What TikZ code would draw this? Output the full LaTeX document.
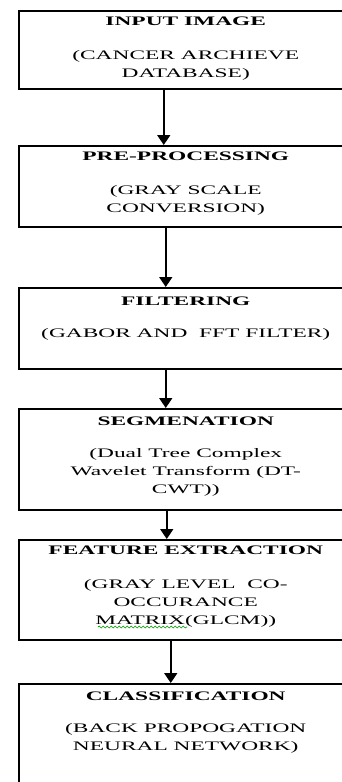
\documentclass[tikz,border=0pt]{standalone}
\usepackage{fontspec}
\setmainfont{Liberation Serif}[FakeStretch=1.8]
\usetikzlibrary{positioning,arrows.meta,calc,decorations.pathmorphing}

\tikzset{
  stage/.style={draw,line width=1.5pt,minimum width=334pt,inner sep=0pt,anchor=north west},
  stagetext/.style={font=\fontsize{13}{18}\selectfont,align=center,inner sep=0pt},
  flow/.style={draw,line width=1.5pt,-{Triangle[width=13pt,length=10pt]}},
  spellmark/.style={draw=green!60!black,line width=0.6pt,decorate,
    decoration={snake,segment length=4pt,amplitude=1pt}}
}

\begin{document}
\begin{tikzpicture}[x=1pt,y=-1pt]

  \useasboundingbox (0,0) rectangle (342,782);
  \clip (0,0) rectangle (342,782);

  % boxes
  \begin{scope}[every node/.style={stage}]
    \node[minimum height=78pt]  (1) at (18,10)  {};
    \node[minimum height=81pt]  (2) at (18,145) {};
    \node[minimum height=81pt]  (3) at (18,287) {};
    \node[minimum height=101pt] (4) at (18,408) {};
    \node[minimum height=100pt] (5) at (18,539) {};
    \node[minimum height=130pt] (6) at (18,683) {};
  \end{scope}

  % texts
  \begin{scope}[every node/.style={stagetext}]
    \node[below=7pt of 1.north] (t1) {\textbf{INPUT IMAGE}\\[16pt]
      (CANCER ARCHIEVE\\DATABASE)};
    \node[below=7pt of 2.north] (t2) {\textbf{PRE-PROCESSING}\\[16pt]
      (GRAY SCALE\\CONVERSION)};
    \node[below=10pt of 3.north] (t3) {\textbf{FILTERING}\\[14pt]
      (GABOR AND~ FFT FILTER)};
    \node[below=9pt of 4.north] (t4) {\textbf{SEGMENATION}\\[14pt]
      (Dual Tree Complex\\Wavelet Transform (DT-\\CWT))};
    \node[below=7pt of 5.north] (t5) {\textbf{FEATURE EXTRACTION}\\[16pt]
      (GRAY LEVEL~ CO-\\OCCURANCE\\MATRIX(GLCM))};
    \node[below=9pt of 6.north] (t6) {\textbf{CLASSIFICATION}\\[14pt]
      (BACK PROPOGATION\\NEURAL NETWORK)};
  \end{scope}

  % arrows
  \path[flow] ([xshift=-22pt]1.south) -- ([xshift=-22pt]2.north);
  \path[flow] ([xshift=-20pt]2.south) -- ([xshift=-20pt]3.north);
  \path[flow] ([xshift=-20pt]3.south) -- ([xshift=-20pt]4.north);
  \path[flow] ([xshift=-19pt]4.south) -- ([xshift=-19pt]5.north);
  \path[flow] ([xshift=-15pt]5.south) -- ([xshift=-15pt]6.north);

  \path[spellmark] ($(5.north west)+(80,88)$) -- ++(89,0);

\end{tikzpicture}
\end{document}
